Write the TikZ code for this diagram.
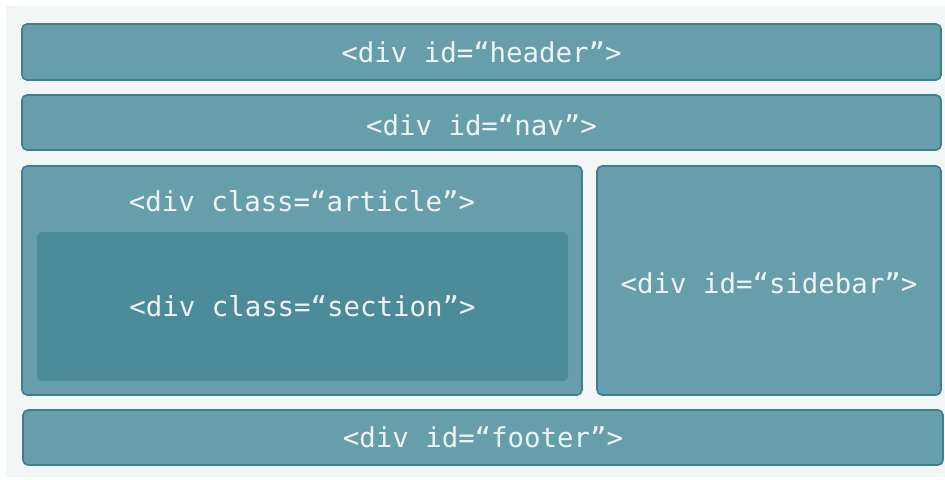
\documentclass[tikz,border=0pt]{standalone}
\usepackage{fontspec}
\setmonofont{DejaVu Sans Mono}
\usepackage{xcolor}
\usetikzlibrary{positioning}

\definecolor{pagebg}{HTML}{F3F6F7}
\definecolor{divfill}{HTML}{669FAB}
\definecolor{divline}{HTML}{3F7F8C}
\definecolor{innerfill}{HTML}{4C8B99}
\definecolor{divtext}{HTML}{EEF4F4}

\tikzset{
    divbox/.style={draw=divline, line width=0.8pt, fill=divfill, rounded corners=2.5pt, inner sep=0pt},
    innerbox/.style={fill=innerfill, rounded corners=2.5pt, inner sep=0pt},
    divlabel/.style={text=divtext, font=\ttfamily\fontsize{13.7}{16}\selectfont, inner sep=0pt}
}

\begin{document}
\begin{tikzpicture}[x=0.5pt, y=-0.5pt]
    % Page
    \useasboundingbox (0,0) rectangle (945,479);
    \fill[pagebg] (6,6) rectangle (945,477);

    % Header and nav
    \node[divbox, minimum width=459.5pt, minimum height=28pt] (header) at (481.5,52) {};
    \node[divlabel] (headertxt) at (header) {<div id=“header”>};

    \node[divbox, minimum width=459.5pt, minimum height=27.5pt] (nav) at (481.5,122.5) {};
    \node[divlabel] (navtxt) at (481.5,125.5) {<div id=“nav”>};

    % Article with section
    \node[divbox, minimum width=280pt, minimum height=114.5pt] (article) at (302,280.5) {};
    \node[divlabel] (articletxt) at (302,201) {<div class=“article”>};
    \node[innerbox, minimum width=265.5pt, minimum height=74.5pt] (section) at (302.5,306.5) {};
    \node[divlabel] (sectiontxt) at (section) {<div class=“section”>};

    % Sidebar
    \node[divbox, minimum width=172pt, minimum height=114.5pt] (sidebar) at (769,280.5) {};
    \node[divlabel] (sidebartxt) at (769,283) {<div id=“sidebar”>};

    % Footer
    \node[divbox, minimum width=460pt, minimum height=27.5pt] (footer) at (483,437.5) {};
    \node[divlabel] (footertxt) at (footer) {<div id=“footer”>};
\end{tikzpicture}
\end{document}
